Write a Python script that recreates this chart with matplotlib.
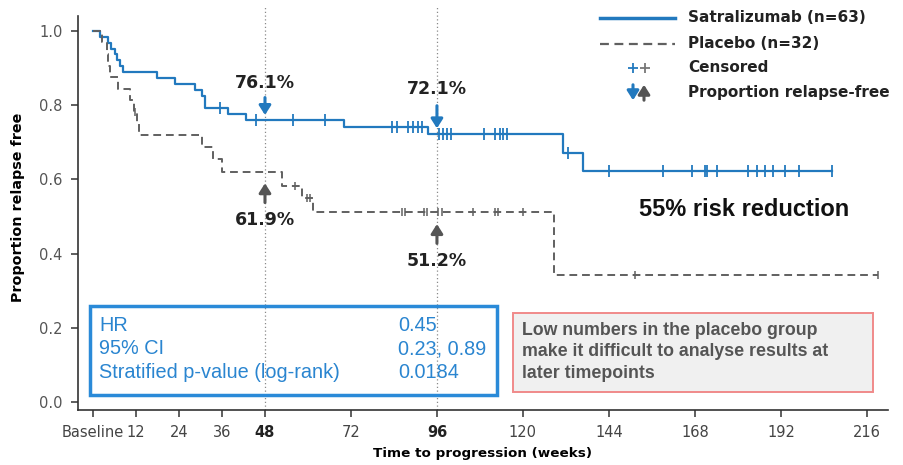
import numpy as np
import matplotlib.pyplot as plt
from matplotlib.lines import Line2D
from matplotlib.patches import Rectangle, FancyArrowPatch

# Kaplan-Meier steps (weeks, proportion relapse free)
satra_times = [0, 2.0, 4.3, 5.0, 6.0, 6.6, 7.6, 8.5, 18.0, 23.0, 28.5, 30.3, 31.3,
               37.6, 42.6, 70.0, 93.4, 131.1, 136.7]
satra_surv = [1.0, 0.984, 0.968, 0.952, 0.937, 0.921, 0.905, 0.889, 0.873, 0.857, 0.841,
              0.825, 0.793, 0.777, 0.761, 0.741, 0.721, 0.672, 0.622]
satra_cens = [35.4, 45.4, 55.7, 64.7, 83.4, 84.8, 88.0, 89.4, 90.8, 91.7, 96.7, 97.8,
              98.7, 99.8, 109.1, 112.2, 113.6, 114.5, 115.5, 132.7, 144.0, 159.0, 167.1,
              170.8, 171.3, 174.1, 182.7, 185.2, 187.7, 189.7, 193.1, 197.1, 206.2]

plac_times = [0, 2.6, 3.8, 4.3, 4.8, 7.1, 10.3, 11.5, 12.2, 12.8, 30.5, 33.6, 35.9,
              52.7, 58.2, 61.5, 128.7]
plac_surv = [1.0, 0.969, 0.938, 0.906, 0.875, 0.844, 0.813, 0.781, 0.750, 0.719, 0.688,
             0.654, 0.619, 0.581, 0.549, 0.512, 0.341]
plac_cens = [11.7, 56.4, 59.6, 60.6, 86.2, 87.1, 92.5, 93.1, 96.4, 97.3, 106.0, 112.2,
             113.1, 120.1, 151.3, 219.2]

xticks = [0, 12, 24, 36, 48, 72, 96, 120, 144, 168, 192, 216]
xticklabels = ['Baseline', '12', '24', '36', '48', '72', '96', '120', '144', '168', '192', '216']
yticks = [0.0, 0.2, 0.4, 0.6, 0.8, 1.0]

stats_names = ['HR', '95% CI', 'Stratified p-value (log-rank)']
stats_values = ['0.45', '0.23, 0.89', '0.0184']

BLUE = '#2279be'
GREY = '#606060'
narrow = ['Liberation Sans Narrow', 'DejaVu Sans']
boldf = ['DejaVu Sans']

plt.rcParams['font.family'] = ['Liberation Sans', 'DejaVu Sans']

fig = plt.figure(figsize=[9.04, 4.65], dpi=100)
ax = fig.add_axes([78/904, 55/465, 810/904, 405/465])


def km_line(times, surv, cens, **kw):
    t = np.append(times, max(cens[-1], times[-1]))
    s = np.append(surv, surv[-1])
    ax.step(t, s, where='post', **kw)
    idx = np.searchsorted(times, cens, side='right') - 1
    return np.array(surv)[idx]


ys = km_line(satra_times, satra_surv, satra_cens, color=BLUE, lw=1.6, zorder=3)
ax.plot(satra_cens, ys, '|', color=BLUE, ms=8, mew=1.3, zorder=4)
yp = km_line(plac_times, plac_surv, plac_cens, color=GREY, lw=1.4, dashes=(4, 2.5), zorder=3)
ax.plot(plac_cens, yp, '|', color=GREY, ms=6, mew=1.1, zorder=4)

for wk in [48, 96]:
    ax.axvline(wk, color='#8a8a8a', lw=0.9, ls=(0, (1, 2)), zorder=1)

ax.set_xlim(-4.19, 221.9)
ax.set_ylim(-0.0216, 1.07)
ax.spines[['top', 'right']].set_visible(False)
ax.spines['left'].set_bounds(-0.0216, 1.04)
for sp in ['left', 'bottom']:
    ax.spines[sp].set_color('#333333')
    ax.spines[sp].set_linewidth(1.2)

ax.set_xticks(xticks)
ax.set_xticklabels(xticklabels, family=narrow, fontsize=10.5, color='#444444')
for lab in ax.get_xticklabels():
    if lab.get_text() in ('48', '96'):
        lab.set_fontweight('bold')
        lab.set_color('#222222')
ax.set_yticks(yticks)
ax.set_yticklabels(['%.1f' % v for v in yticks], family=narrow, fontsize=10.5, color='#555555')
ax.tick_params(length=5, width=1.1, color='#333333', pad=6)

ax.set_xlabel('Time to progression (weeks)', family=boldf, fontsize=9.7, fontweight='bold', labelpad=5)
ax.set_ylabel('Proportion relapse free', family=boldf, fontsize=10.3, fontweight='bold', labelpad=10)

# proportion relapse-free call-outs
arrow_kw = dict(arrowstyle='-|>,head_width=0.35,head_length=0.55', lw=2.2)
pct_kw = dict(ha='center', family=boldf, fontsize=12.5, fontweight='bold', color='#222222')
ax.annotate('', xy=(48, 0.766), xytext=(48, 0.828), arrowprops=dict(color=BLUE, **arrow_kw))
ax.text(48, 0.836, '76.1%', va='bottom', **pct_kw)
ax.annotate('', xy=(96, 0.730), xytext=(96, 0.806), arrowprops=dict(color=BLUE, **arrow_kw))
ax.text(96, 0.820, '72.1%', va='bottom', **pct_kw)
ax.annotate('', xy=(48, 0.597), xytext=(48, 0.530), arrowprops=dict(color='#555555', **arrow_kw))
ax.text(48, 0.515, '61.9%', va='top', **pct_kw)
ax.annotate('', xy=(96, 0.487), xytext=(96, 0.420), arrowprops=dict(color='#555555', **arrow_kw))
ax.text(96, 0.405, '51.2%', va='top', **pct_kw)

ax.text(181.7, 0.518, '55% risk reduction', ha='center', va='center', fontsize=17,
        fontweight='bold', color='#111111')

# stats box
fig.add_artist(Rectangle((90/904, 1 - 395/465), 407/904, 89/465, transform=fig.transFigure,
                         fill=False, edgecolor='#2a8ad8', lw=2.5, zorder=5))
for i, (name, val) in enumerate(zip(stats_names, stats_values)):
    yy = 1 - (325 + 24*i)/465
    fig.text(99/904, yy, name, fontsize=14.3, color='#2a85d0', va='center')
    fig.text(398/904, yy, val, fontsize=14.3, color='#2a85d0', va='center')

# note box
fig.add_artist(Rectangle((513/904, 1 - 392/465), 360/904, 79/465, transform=fig.transFigure,
                         facecolor='#f0f0f0', edgecolor='#f08a8a', lw=1.4, zorder=5))
note = 'Low numbers in the placebo group\nmake it difficult to analyse results at\nlater timepoints'
fig.text(522/904, 1 - 352/465, note, fontsize=12.8, fontweight='bold', color='#555555',
         va='center', linespacing=1.32, zorder=6)

# legend drawn by hand
fig.add_artist(Line2D([600/904, 675/904], [1 - 18/465]*2, color=BLUE, lw=2.5))
fig.add_artist(Line2D([600/904, 675/904], [1 - 44/465]*2, color=GREY, lw=1.6, dashes=(4, 2.5)))
fig.add_artist(Line2D([633/904], [1 - 68/465], marker='+', color=BLUE, ms=7, mew=1.3))
fig.add_artist(Line2D([645/904], [1 - 68/465], marker='+', color='#777777', ms=7, mew=1.3))
fig.add_artist(FancyArrowPatch((633/904, 1 - 82/465), (633/904, 1 - 103/465),
               transform=fig.transFigure, color=BLUE, mutation_scale=10, **arrow_kw))
fig.add_artist(FancyArrowPatch((644/904, 1 - 103/465), (644/904, 1 - 82/465),
               transform=fig.transFigure, color='#555555', mutation_scale=10, **arrow_kw))
leg_labels = ['Satralizumab (n=63)', 'Placebo (n=32)', 'Censored', 'Proportion relapse-free']
for lab, yy in zip(leg_labels, [18, 44, 68, 92]):
    fig.text(688/904, 1 - yy/465, lab, family=boldf, fontsize=11, fontweight='bold',
             color='#222222', va='center')

plt.savefig('out.png', dpi=100)
